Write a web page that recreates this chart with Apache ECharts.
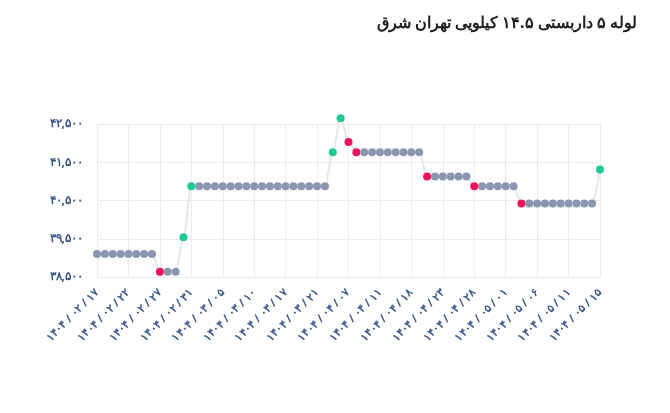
<!DOCTYPE html>
<html>
<head>
<meta charset="utf-8">
<script src="https://cdn.jsdelivr.net/npm/echarts@6/dist/echarts.min.js"></script>
<style>
html, body { margin: 0; padding: 0; background: #fff; }
#main { width: 670px; height: 413px; }
</style>
</head>
<body>
<div id="main"></div>
<script>
var titleText = "لوله ۵ داربستی ۱۴.۵ کیلویی تهران شرق";

// dates (only every 4th is shown on the axis)
var dates = [
    "1404/02/17", "1404/02/18", "1404/02/20", "1404/02/21",
    "1404/02/22", "1404/02/23", "1404/02/24", "1404/02/25",
    "1404/02/27", "1404/02/28", "1404/02/29", "1404/02/30",
    "1404/02/31", "1404/03/01", "1404/03/02", "1404/03/03",
    "1404/03/05", "1404/03/06", "1404/03/07", "1404/03/08",
    "1404/03/10", "1404/03/11", "1404/03/12", "1404/03/15",
    "1404/03/17", "1404/03/18", "1404/03/19", "1404/03/20",
    "1404/03/21", "1404/03/24", "1404/03/25", "1404/03/26",
    "1404/04/07", "1404/04/08", "1404/04/09", "1404/04/10",
    "1404/04/11", "1404/04/12", "1404/04/14", "1404/04/15",
    "1404/04/18", "1404/04/19", "1404/04/20", "1404/04/21",
    "1404/04/23", "1404/04/24", "1404/04/25", "1404/04/26",
    "1404/04/28", "1404/04/29", "1404/04/30", "1404/04/31",
    "1404/05/01", "1404/05/02", "1404/05/04", "1404/05/05",
    "1404/05/06", "1404/05/07", "1404/05/08", "1404/05/09",
    "1404/05/11", "1404/05/12", "1404/05/13", "1404/05/14",
    "1404/05/15"
];

var prices = [
    39100, 39100, 39100, 39100, 39100, 39100, 39100, 39100,
    38640, 38640, 38640,
    39540, 40870,
    40870, 40870, 40870, 40870, 40870, 40870, 40870, 40870, 40870,
    40870, 40870, 40870, 40870, 40870, 40870, 40870, 40870,
    41760, 42650, 42030,
    41760, 41760, 41760, 41760, 41760, 41760, 41760, 41760, 41760,
    41130, 41130, 41130, 41130, 41130, 41130,
    40870, 40870, 40870, 40870, 40870, 40870,
    40420, 40420, 40420, 40420, 40420, 40420, 40420, 40420, 40420, 40420,
    41310
];

var yTicks = [38500, 39500, 40500, 41500, 42500];

function fa(s) {
    return String(s).replace(/[0-9]/g, function (d) { return "۰۱۲۳۴۵۶۷۸۹"[+d]; });
}

var pointData = prices.map(function (v, i) {
    var c = "#8a96b0";
    if (i > 0 && v > prices[i - 1]) c = "#22c993";
    if (i > 0 && v < prices[i - 1]) c = "#f0145a";
    return { value: v, itemStyle: { color: c } };
});

var chart = echarts.init(document.getElementById("main"));
chart.setOption({
    backgroundColor: "#fff",
    animation: false,
    title: {
        text: titleText,
        right: 28,
        top: 10,
        textStyle: { fontFamily: "Noto Sans", fontSize: 16, fontWeight: "bold", color: "#222" }
    },
    grid: { left: 97, right: 70, top: 124, bottom: 136 },
    xAxis: {
        type: "category",
        boundaryGap: false,
        data: dates,
        axisLine: { show: false },
        axisTick: { show: false },
        splitLine: { show: true, interval: 3, lineStyle: { color: "#ececec" } },
        axisLabel: {
            interval: 3,
            rotate: 45,
            margin: 14,
            color: "#3d5a8a",
            fontFamily: "Noto Sans",
            fontSize: 11,
            fontWeight: "bold",
            formatter: function (v) { return fa(v.split("/").join(" / ")); }
        }
    },
    yAxis: {
        type: "value",
        min: 38500,
        max: 42500,
        interval: 1000,
        axisLine: { show: false },
        axisTick: { show: false },
        splitLine: { lineStyle: { color: "#ececec" } },
        axisLabel: {
            color: "#3d5a8a",
            fontFamily: "Noto Sans",
            fontSize: 12,
            fontWeight: "bold",
            margin: 14,
            formatter: function (v) { return fa(v.toLocaleString("en-US")); }
        }
    },
    series: [{
        type: "line",
        data: pointData,
        smooth: 0.3,
        smoothMonotone: "x",
        showAllSymbol: true,
        clip: false,
        symbol: "circle",
        symbolSize: 8,
        lineStyle: { color: "#e6e6ea", width: 2 }
    }]
});
</script>
</body>
</html>
